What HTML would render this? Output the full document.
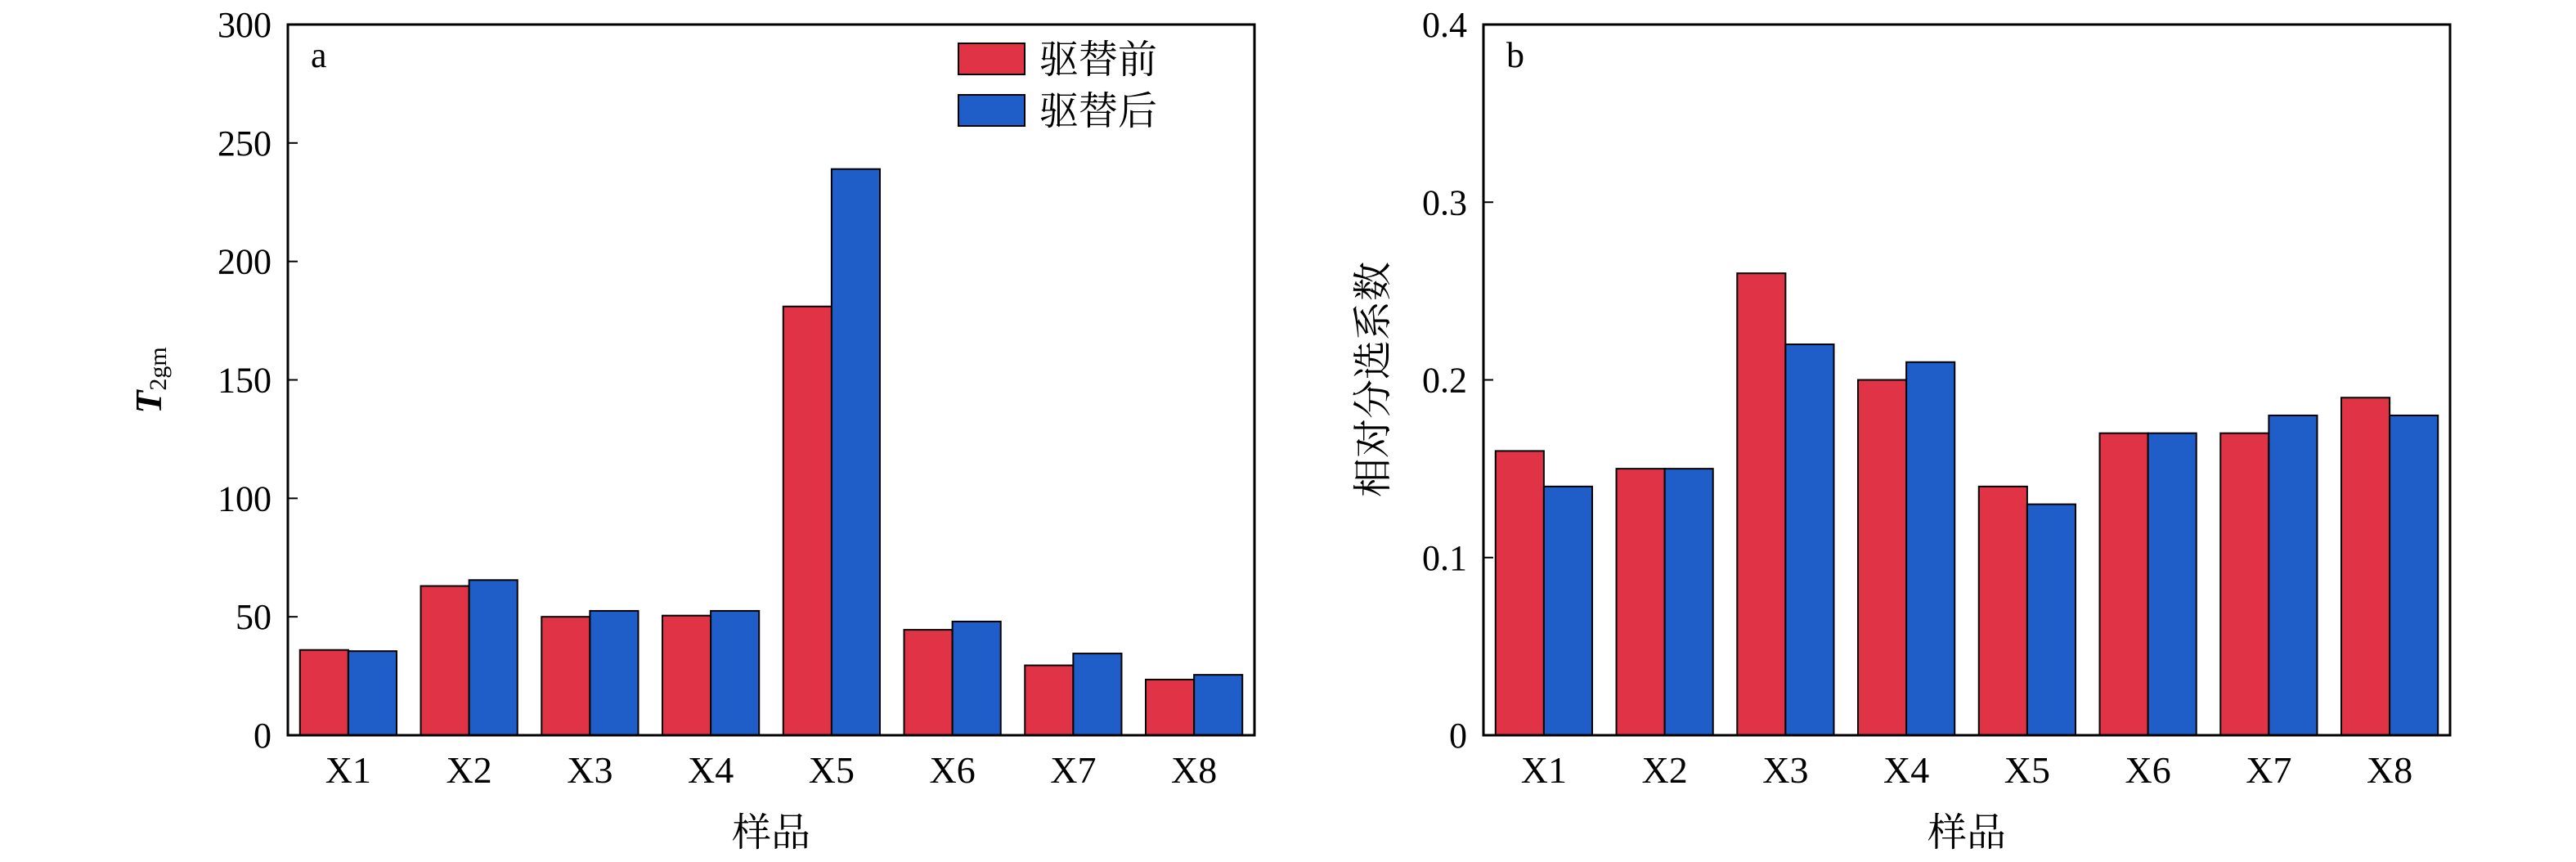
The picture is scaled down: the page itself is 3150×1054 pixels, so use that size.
<!DOCTYPE html>
<html><head><meta charset="utf-8"><style>
html,body{margin:0;padding:0;background:#fff;}
svg{display:block;}
text{font-family:"Liberation Serif","Noto Serif CJK SC","Noto Sans CJK SC",serif;fill:#000;}
</style></head><body>
<svg id="chart" width="3150" height="1054" viewBox="0 0 3150 1054" xmlns="http://www.w3.org/2000/svg">
<g id="pa"></g>
<g id="pb"></g>
</svg>
<script>
const categories = ["X1","X2","X3","X4","X5","X6","X7","X8"];
const seriesNames = ["驱替前","驱替后"];
const t2gmBefore = [36,63,50,50.5,181,44.5,29.5,23.5];
const t2gmAfter = [35.5,65.5,52.5,52.5,239,48,34.5,25.5];
const sortBefore = [0.16,0.15,0.26,0.20,0.14,0.17,0.17,0.19];
const sortAfter = [0.14,0.15,0.22,0.21,0.13,0.17,0.18,0.18];
const ticksA = [0,50,100,150,200,250,300];
const tickLabelsA = ["0","50","100","150","200","250","300"];
const ticksB = [0,0.1,0.2,0.3,0.4];
const tickLabelsB = ["0","0.1","0.2","0.3","0.4"];

const NS="http://www.w3.org/2000/svg";
const RED="#e03446", BLUE="#1f5ec9";
function mk(parent,tag,attrs){const e=document.createElementNS(NS,tag);for(const k in attrs)e.setAttribute(k,attrs[k]);parent.appendChild(e);return e;}

function panel(g,x0,x1,ymax,ticks,tickLabels,before,after,label,legend){
  const top=30,bot=899;
  const y=v=>bot-(v/ymax)*(bot-top);
  const pitch=(x1-x0)/categories.length;
  const bw=pitch*0.4;
  categories.forEach((c,i)=>{
    const cx=x0+pitch*(i+0.5);
    const r=mk(g,'rect',{x:cx-bw,y:y(before[i]),width:bw,height:bot-y(before[i]),fill:RED,stroke:'#000','stroke-width':2});
    
    
    const b=mk(g,'rect',{x:cx,y:y(after[i]),width:bw,height:bot-y(after[i]),fill:BLUE,stroke:'#000','stroke-width':2});
    
    
    const t=mk(g,'text',{x:cx,y:957,'font-size':46,'text-anchor':'middle'});
    t.textContent=c;
    
    
  });
  ticks.forEach((v,i)=>{
    const tk=mk(g,'line',{x1:x0,x2:x0+12,y1:y(v),y2:y(v),stroke:'#000','stroke-width':2});
    
    
    const t=mk(g,'text',{x:x0-20,y:y(v)+15,'font-size':44,'text-anchor':'end'});
    t.textContent=tickLabels[i];
    
    
  });
  const f=mk(g,'rect',{x:x0,y:top,width:x1-x0,height:bot-top,fill:'none',stroke:'#000','stroke-width':3});
  
  
  const pl=mk(g,'text',{x:x0+28,y:82,'font-size':44});
  pl.textContent=label;
  
  
  const xt=mk(g,'text',{x:(x0+x1)/2,y:1034,'font-size':48,'text-anchor':'middle'});
  xt.textContent="样品";
  
  
  if(legend){
    [RED,BLUE].forEach((col,i)=>{
      const yy=[53,116][i];
      const lr=mk(g,'rect',{x:1172,y:yy,width:81,height:38,fill:col,stroke:'#000','stroke-width':2});
      
      
      const lt=mk(g,'text',{x:1271,y:yy+36,'font-size':48});
      lt.textContent=seriesNames[i];
      
      
    });
  }
}
const ga=document.getElementById('pa'), gb=document.getElementById('pb');
panel(ga,352,1534,300,ticksA,tickLabelsA,t2gmBefore,t2gmAfter,'a',true);
panel(gb,1814,2996,0.4,ticksB,tickLabelsB,sortBefore,sortAfter,'b',false);

// y-axis titles
const ya=mk(ga,'text',{transform:'translate(197,465) rotate(-90)','font-size':46,'text-anchor':'middle'});


const ts=mk(ya,'tspan',{'font-style':'italic','font-weight':'bold'});ts.textContent='T';
const ss=mk(ya,'tspan',{'font-size':30,dy:6});ss.textContent='2gm';
const yb=mk(gb,'text',{transform:'translate(1695,464) rotate(-90)','font-size':48,'text-anchor':'middle'});
yb.textContent='相对分选系数';


</script>
</body></html>
